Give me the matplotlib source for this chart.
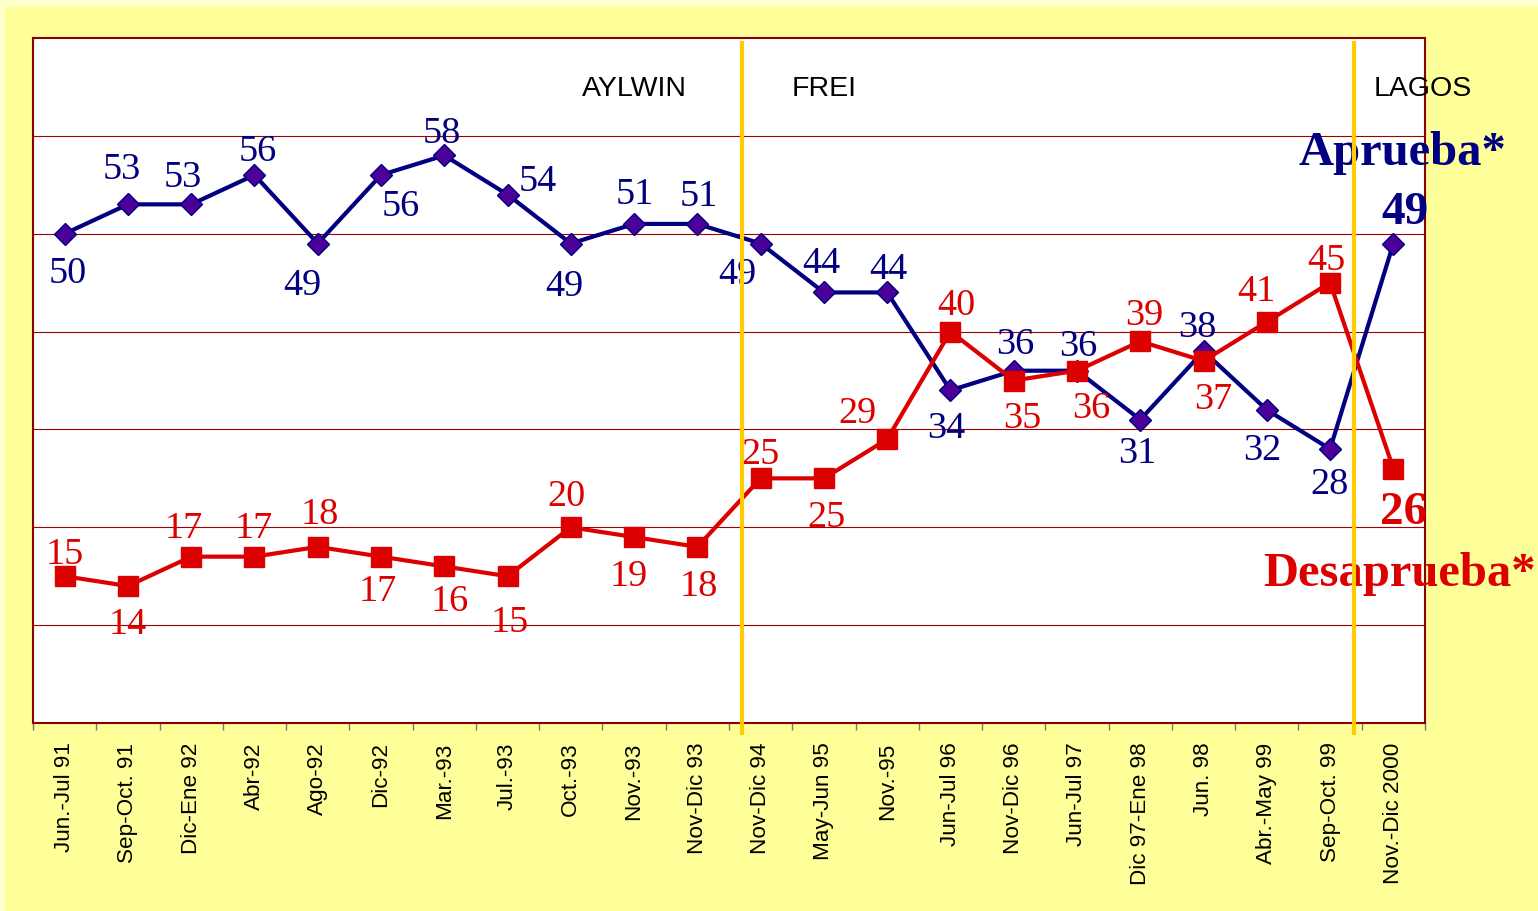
import numpy as np
import matplotlib
matplotlib.use("Agg")
import matplotlib.pyplot as plt
from matplotlib.patches import Rectangle

# encuestas de aprobacion / desaprobacion del gobierno
periodos = ['Jun.-Jul 91', 'Sep-Oct. 91', 'Dic-Ene 92', 'Abr-92', 'Ago-92', 'Dic-92',
            'Mar.-93', 'Jul.-93', 'Oct.-93', 'Nov.-93', 'Nov-Dic 93', 'Nov-Dic 94',
            'May-Jun 95', 'Nov.-95', 'Jun-Jul 96', 'Nov-Dic 96', 'Jun-Jul 97',
            'Dic 97-Ene 98', 'Jun. 98', 'Abr.-May 99', 'Sep-Oct. 99', 'Nov.-Dic 2000']
aprueba = [50, 53, 53, 56, 49, 56, 58, 54, 49, 51, 51, 49, 44, 44, 34, 36, 36, 31, 38, 32, 28, 49]
desaprueba = [15, 14, 17, 17, 18, 17, 16, 15, 20, 19, 18, 25, 25, 29, 40, 35, 36, 39, 37, 41, 45, 26]
gobiernos = ['AYLWIN', 'FREI', 'LAGOS']

# posiciones de las etiquetas (pixeles, respecto al marcador)
off_apr = [(3, -37), (-6, 38), (-8, 30), (3, 27), (-15, -39), (20, -28), (-2, 25), (30, 16),
           (-7, -40), (1, 33), (1, 31), (-23, -28), (-3, 32), (1, 26), (-4, -35), (2, 29),
           (1, 27), (-3, -31), (-6, 27), (-5, -37), (-1, -32), (12, 34)]
off_des = [(0, 25), (0, -35), (-7, 31), (-1, 31), (2, 36), (-3, -32), (5, -32), (2, -43),
           (-4, 34), (-5, -36), (1, -36), (0, 27), (3, -36), (-30, 29), (6, 29), (9, -35),
           (14, -35), (4, 29), (10, -35), (-10, 34), (-4, 25), (10, -41)]
AJUSTE = 3.5  # las cifras quedan algo altas con va='center'
pos_gob = [9.0, 12.0, 21.47]
cambios = [10.71, 20.38]

AZUL = '#000080'
ROJO = '#DD0000'
SERIF = 'Liberation Serif'
SANS = 'Liberation Sans'

fig = plt.figure(figsize=(15.38, 9.11), dpi=100)
fig.patch.set_facecolor('#FFFFCC')
fig.patches.append(Rectangle((5 / 1538, 0), 1, 1 - 7 / 911, transform=fig.transFigure,
                             facecolor='#FFFF99', edgecolor='none', zorder=-10))

ax = fig.add_axes([33 / 1538, 188 / 911, 1392 / 1538, 685 / 911])
ax.set_facecolor('white')
x = np.arange(len(periodos))

ax.set_xlim(-0.5, len(periodos) - 0.5)
ax.set_ylim(0, 70)
ax.set_yticks([10, 20, 30, 40, 50, 60])
ax.yaxis.grid(True, color='#A00000', linewidth=0.8)
ax.tick_params(axis='y', left=False, labelleft=False)
ax.set_axisbelow(True)

for s in ax.spines.values():
    s.set_color('#8B0000')
    s.set_linewidth(1.5)

ax.set_xticks(x)
ax.set_xticklabels(periodos, rotation=90, fontsize=16.2, family=SANS, va='top', ha='center')
ax.set_xticks(np.arange(-0.5, len(periodos)), minor=True)
ax.tick_params(axis='x', which='major', length=0, pad=14)
ax.tick_params(axis='x', which='minor', length=5, color='#777777', width=1)

ax.plot(x, aprueba, color=AZUL, lw=3, marker='D', ms=11, mfc='#4B0099', mec=AZUL, mew=1,
        zorder=3)
ax.plot(x, desaprueba, color=ROJO, lw=3, marker='s', ms=14, mfc=ROJO, mec=ROJO, zorder=3)

n = len(periodos)
for i in range(n):
    last = i == n - 1
    dx, dy = off_apr[i]
    ax.annotate(str(aprueba[i]), (x[i], aprueba[i]), xytext=(dx, dy - AJUSTE),
                textcoords='offset pixels', ha='center', va='center', color=AZUL,
                family=SERIF, fontsize=34 if last else 27.5,
                fontweight='bold' if last else 'normal', zorder=4, annotation_clip=False)
    dx, dy = off_des[i]
    ax.annotate(str(desaprueba[i]), (x[i], desaprueba[i]), xytext=(dx, dy - AJUSTE),
                textcoords='offset pixels', ha='center', va='center', color=ROJO,
                family=SERIF, fontsize=34 if last else 27.5,
                fontweight='bold' if last else 'normal', zorder=4, annotation_clip=False)

for g, p in zip(gobiernos, pos_gob):
    ax.text(p, 64.8, g, ha='center', va='center', fontsize=20.5, family=SANS, color='black')

ax.text(21.15, 58.2, 'Aprueba*', ha='center', va='center', fontsize=35, family=SERIF,
        fontweight='bold', color=AZUL, clip_on=False, zorder=4)
ax.text(21.1, 15.2, 'Desaprueba*', ha='center', va='center', fontsize=35, family=SERIF,
        fontweight='bold', color=ROJO, clip_on=False, zorder=4)

# cambios de gobierno
for c in cambios:
    ax.plot([c, c], [0.993, -0.015], transform=ax.get_xaxis_transform(), color='#FFCC00',
            lw=3, clip_on=False, zorder=5)

fig.savefig('out.png', dpi=100, facecolor=fig.get_facecolor())
